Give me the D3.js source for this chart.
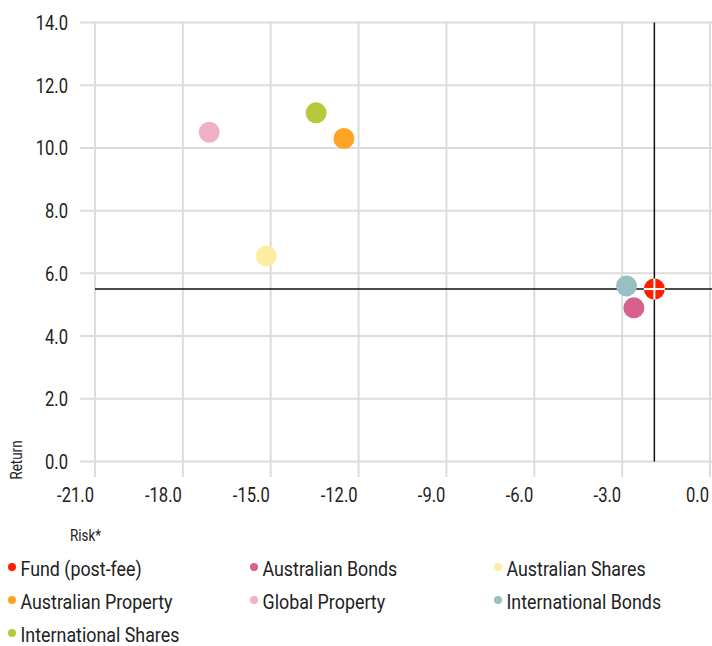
<!DOCTYPE html>
<html><head><meta charset="utf-8">
<script src="https://cdn.jsdelivr.net/npm/d3@7/dist/d3.min.js"></script>
<style>
body{margin:0;background:#fff;}
svg text{font-family:Roboto,"Liberation Sans",sans-serif;fill:#222;}
</style></head><body>
<svg id="c" width="712" height="646"></svg>
<script>
const names = ["Fund (post-fee)","Australian Bonds","Australian Shares","Australian Property","Global Property","International Bonds","International Shares"];
const risk = [-1.9,-2.6,-15.15,-12.5,-17.1,-2.85,-13.45];
const ret = [5.5,4.9,6.55,10.3,10.5,5.6,11.12];
const colors = ["#ff1f00","#d9608d","#fdeda0","#ffa424","#efb0c8","#98c0c2","#b7c93a"];
const xTicks = [-21,-18,-15,-12,-9,-6,-3,0];
const yTicks = [0,2,4,6,8,10,12,14];
const fundRisk = -1.9, fundReturn = 5.5;

const SX = 0.79, SL = 0.85;
const fmt = d => d3.format(".1f")(d).replace("\u2212","-");
const svg = d3.select("#c");
const x = d3.scaleLinear().domain([-21,0]).range([95,710]);
const y = d3.scaleLinear().domain([0,14]).range([461.5,22.5]);

// grid
svg.append("g").selectAll("line").data(yTicks).join("line")
  .attr("x1",80).attr("x2",712).attr("y1",d=>y(d)).attr("y2",d=>y(d))
  .attr("stroke","#dcdcdc").attr("stroke-width",2);
svg.append("g").selectAll("line").data(xTicks).join("line")
  .attr("x1",d=>x(d)).attr("x2",d=>x(d)).attr("y1",y(14)).attr("y2",477)
  .attr("stroke","#dcdcdc").attr("stroke-width",2);

// tick labels
svg.append("g").selectAll("text").data(yTicks).join("text")
  .attr("transform",d=>`translate(68,${y(d)+7.5}) scale(${SX},1)`).attr("text-anchor","end")
  .attr("font-size",21).text(fmt);
svg.append("g").selectAll("text").data(xTicks).join("text")
  .attr("transform",d=>`translate(${x(d)-1},502) scale(${SX},1)`)
  .attr("text-anchor","end")
  .attr("font-size",21).text(fmt);

// axis titles
svg.append("text").attr("transform",`translate(22,460) rotate(-90) scale(${SX},1)`)
  .attr("text-anchor","middle").attr("font-size",17).text("Return");
svg.append("text").attr("transform",`translate(70,541) scale(${SX},1)`).attr("font-size",17).text("Risk*");

// crosshair
svg.append("line").attr("x1",x(-21)).attr("x2",712).attr("y1",y(fundReturn)).attr("y2",y(fundReturn))
  .attr("stroke","#111").attr("stroke-width",1.5);
svg.append("line").attr("x1",x(fundRisk)).attr("x2",x(fundRisk)).attr("y1",y(14)).attr("y2",y(0))
  .attr("stroke","#111").attr("stroke-width",1.5);

// points
const pts = names.map((n,i)=>({n,r:risk[i],v:ret[i],c:colors[i],i}));
svg.append("g").selectAll("circle").data(pts.slice().reverse()).join("circle")
  .attr("cx",d=>x(d.r)).attr("cy",d=>y(d.v)).attr("r",10.5).attr("fill",d=>d.c);
const fx = x(fundRisk), fy = y(fundReturn);
svg.append("line").attr("x1",fx-10.5).attr("x2",fx+10.5).attr("y1",fy).attr("y2",fy).attr("stroke","#fff").attr("stroke-width",2);
svg.append("line").attr("x1",fx).attr("x2",fx).attr("y1",fy-10.5).attr("y2",fy+10.5).attr("stroke","#fff").attr("stroke-width",2);

// legend
const lg = svg.append("g").selectAll("g").data(pts).join("g")
  .attr("transform",d=>`translate(${[8,250,494][d.i%3]},${567+Math.floor(d.i/3)*33})`);
lg.append("circle").attr("cx",4).attr("cy",0).attr("r",4).attr("fill",d=>d.c);
lg.append("text").attr("transform",`translate(12.5,8.5) scale(${SL},1)`).attr("font-size",21).text(d=>d.n);
</script>
</body></html>
